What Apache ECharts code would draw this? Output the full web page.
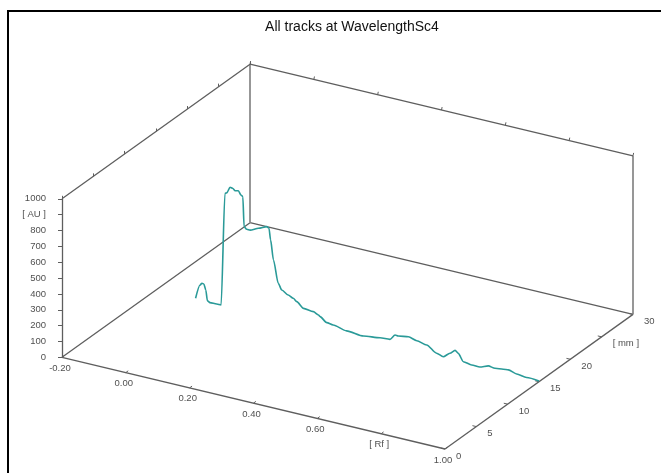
<!DOCTYPE html>
<html>
<head>
<meta charset="utf-8">
<script src="https://cdn.jsdelivr.net/npm/echarts@6/dist/echarts.min.js"></script>
<style>
  html, body { margin: 0; padding: 0; background: #fff; }
  #chart { width: 661px; height: 473px; }
</style>
</head>
<body>
<div id="chart"></div>
<script>
// axis ranges + ticks
const rfTicks = [-0.2, 0, 0.2, 0.4, 0.6, 0.8, 1.0];
const rfLabels = ['-0.20', '0.00', '0.20', '0.40', '0.60', '[ Rf ]', '1.00'];
const mmTicks = [0, 5, 10, 15, 20, 25, 30];
const mmLabels = ['0', '5', '10', '15', '20', '[ mm ]', '30'];
const auTicks = [0, 100, 200, 300, 400, 500, 600, 700, 800, 900, 1000];
const auLabels = ['0', '100', '200', '300', '400', '500', '600', '700', '800', '[ AU ]', '1000'];

// the one track (sits at 15 mm)
const trackMm = 15;
const trackRf = [-0.076, -0.062, -0.056, -0.050, -0.044, -0.039, -0.031, -0.010, 0.004, 0.016, 0.022, 0.032, 0.040, 0.048, 0.058, 0.066, 0.072, 0.076, 0.084, 0.095, 0.121, 0.147, 0.154, 0.159, 0.168, 0.183, 0.194, 0.214, 0.230, 0.241, 0.262, 0.293, 0.309, 0.314, 0.335, 0.355, 0.397, 0.450, 0.502, 0.533, 0.549, 0.559, 0.591, 0.617, 0.648, 0.679, 0.700, 0.721, 0.737, 0.747, 0.763, 0.789, 0.815, 0.841, 0.862, 0.888, 0.904, 0.930, 0.961, 1.000];
const trackAu = [8, 98, 112, 110, 75, 10, 2, 3, 4, 714, 720, 760, 758, 746, 751, 728, 720, 533, 520, 520, 544, 567, 560, 489, 367, 227, 190, 168, 155, 139, 107, 101, 88, 80, 52, 47, 30, 23, 37, 42, 77, 76, 86, 74, 62, 25, 13, 45, 71, 57, 12, 4, 4, 23, 18, 25, 28, 15, 8, 5];

const rfMin = rfTicks[0], rfMax = rfTicks[rfTicks.length - 1];
const mmMax = mmTicks[mmTicks.length - 1];
const auMax = auTicks[auTicks.length - 1];

// oblique projection onto a hidden pixel-sized cartesian
const O = [62, 357.3];
function proj(rf, mm, au) {
  const s = rf - rfMin;
  return [O[0] + s * 319.17 + mm * 6.267, O[1] + s * 76.42 - mm * 4.487 - au * 0.1585];
}

const axisColor = '#5e5e5e';
function edge(a, b, color, width) {
  return { coords: [proj.apply(null, a), proj.apply(null, b)], lineStyle: { color: color || axisColor, width: width || 1.3, opacity: 1 } };
}
const edges = [
  edge([rfMin, 0, 0], [rfMin, 0, auMax]),
  edge([rfMin, 0, 0], [rfMax, 0, 0]),
  edge([rfMax, 0, 0], [rfMax, mmMax, 0]),
  edge([rfMin, 0, 0], [rfMin, mmMax, 0]),
  edge([rfMin, mmMax, 0], [rfMax, mmMax, 0]),
  edge([rfMin, mmMax, 0], [rfMin, mmMax, auMax], '#8c8c8c', 1.8),
  edge([rfMax, mmMax, 0], [rfMax, mmMax, auMax], '#8c8c8c', 1.8),
  edge([rfMin, mmMax, auMax], [rfMax, mmMax, auMax]),
  edge([rfMin, 0, auMax], [rfMin, mmMax, auMax])
];

function tick(p, dx, dy) {
  return { coords: [p, [p[0] + dx, p[1] + dy]] };
}
const ticks = [];
auTicks.forEach(v => ticks.push(tick(proj(rfMin, 0, v), -4, 0)));
rfTicks.forEach(v => ticks.push(tick(proj(v, 0, 0), 2.4, -1.8)));
mmTicks.forEach(v => ticks.push(tick(proj(rfMax, v, 0), -3.9, -0.9)));
rfTicks.forEach(v => ticks.push(tick(proj(v, mmMax, auMax), 0.6, -3)));
mmTicks.forEach(v => ticks.push(tick(proj(rfMin, v, auMax), 0, -3)));

function labelSeries(points, texts, pos, align) {
  return {
    type: 'scatter',
    symbolSize: 0,
    silent: true,
    data: points.map((p, i) => [p[0], p[1], texts[i]]),
    label: {
      show: true,
      formatter: p => p.value[2],
      position: pos,
      align: align,
      verticalAlign: 'middle',
      color: '#222',
      fontSize: 9.5,
      fontFamily: 'Liberation Sans, Arial, sans-serif'
    }
  };
}

const chart = echarts.init(document.getElementById('chart'));
chart.setOption({
  animation: false,
  title: {
    text: 'All tracks at WavelengthSc4',
    left: 347,
    textAlign: 'center',
    top: 15,
    textStyle: { fontSize: 14, fontWeight: 'normal', color: '#111', fontFamily: 'Liberation Sans, Arial, sans-serif' }
  },
  grid: { left: 0, right: 0, top: 0, bottom: 0 },
  xAxis: { type: 'value', min: 0, max: 661, show: false },
  yAxis: { type: 'value', min: 0, max: 473, inverse: true, show: false },
  graphic: [{
    type: 'rect',
    shape: { x: 8, y: 11, width: 700, height: 500 },
    style: { fill: 'none', stroke: '#000', lineWidth: 2 }
  }],
  series: [
    { type: 'lines', coordinateSystem: 'cartesian2d', silent: true, data: edges },
    { type: 'lines', coordinateSystem: 'cartesian2d', silent: true, lineStyle: { color: axisColor, width: 1, opacity: 1 }, data: ticks },
    labelSeries(auTicks.map(v => proj(rfMin, 0, v)), auLabels, [-16, 0], 'right'),
    labelSeries(rfTicks.map(v => proj(v, 0, 0)), rfLabels, [-2, 11], 'center'),
    labelSeries(mmTicks.map(v => proj(rfMax, v, 0)), mmLabels, [11, 7], 'left'),
    {
      type: 'line',
      showSymbol: false,
      silent: true,
      smooth: 0.25,
      smoothMonotone: 'x',
      lineStyle: { color: '#2a9a98', width: 1.6 },
      data: trackRf.map((r, i) => proj(r, trackMm, trackAu[i]))
    }
  ]
});
</script>
</body>
</html>
